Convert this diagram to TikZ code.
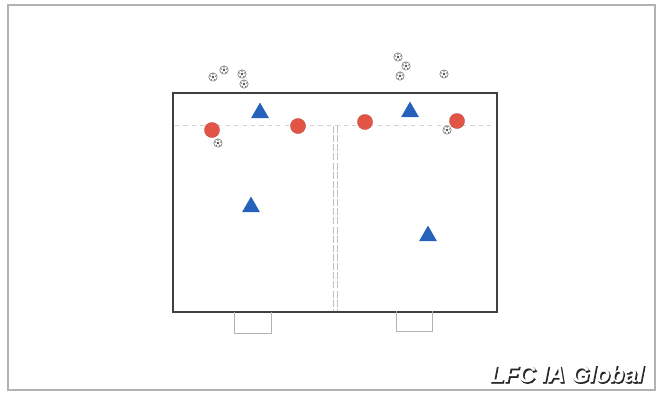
\documentclass[tikz,border=0pt]{standalone}
\usepackage{fontspec}
\setsansfont{Liberation Sans}
\newfontfamily\logoshadowfont[FakeBold=3.5]{Liberation Sans}
\usetikzlibrary{shapes.geometric,calc}
\definecolor{conblue}{RGB}{38,98,188}
\definecolor{plred}{RGB}{226,84,70}
\tikzset{
  player/.style={circle, fill=plred, draw=plred!80!black, line width=0.2pt, minimum size=0.38cm, inner sep=0pt},
  cone/.style={regular polygon, regular polygon sides=3, fill=conblue, inner sep=0pt, minimum size=0.52cm},
  ball/.style={circle, draw=black!60, fill=white, line width=0.35pt, minimum size=0.21cm, inner sep=0pt,
    path picture={\fill[black!70] (path picture bounding box.center) circle (0.035cm);
      \foreach \a in {90,162,234,306,18} \fill[black!55] ($(path picture bounding box.center)+(\a:0.075cm)$) circle (0.02cm);}},
  goalbox/.style={draw=black!30, line width=0.6pt},
  midline/.style={draw=black!25, line width=0.4pt, dash pattern=on 5pt off 1.5pt},
  logo/.style={font=\sffamily\bfseries\itshape\fontsize{16.5}{18}\selectfont, inner sep=0pt},
  logoshadow/.style={font=\logoshadowfont\bfseries\itshape\fontsize{16.5}{18}\selectfont, inner sep=0pt, text=black!85}
}
\begin{document}
\begin{tikzpicture}[x=0.025cm, y=-0.025cm]
  \useasboundingbox (0,0) rectangle (662,396);
  % Frame
  \draw[black!30, line width=0.8pt] (8,5) rectangle (655,390);

  % Pitch
  \coordinate (pitchNW) at (173,93);
  \coordinate (pitchSE) at (497,312);
  \draw[black!75, line width=1.4pt] (pitchNW) rectangle (pitchSE);
  \coordinate (lineW) at (175,125);
  \coordinate (lineE) at (495,125);
  \draw[black!18, dashed, line width=0.5pt] (lineW) -- (lineE);
  \coordinate (midNW) at (333,126);
  \coordinate (midSW) at (333,311);
  \coordinate (midNE) at (337,126);
  \coordinate (midSE) at (337,311);
  \draw[midline] (midNW) -- (midSW);
  \draw[midline] (midNE) -- (midSE);

  % Goals
  \draw[goalbox] (234,312) -- (234,333) -- (271,333) -- (271,312);
  \draw[goalbox] (396,311) -- (396,331) -- (432,331) -- (432,311);

  % Players
  \node[player] (redA) at (212,130) {};
  \node[player] (redB) at (298,126) {};
  \node[player] (redC) at (365,122) {};
  \node[player] (redD) at (457,121) {};

  % Cones
  \node[cone] (coneA) at (260,113) {};
  \node[cone] (coneB) at (410,112) {};
  \node[cone] (coneC) at (251,207) {};
  \node[cone] (coneD) at (428,236) {};

  % Balls
  \node[ball] (ballA) at (213,77) {};
  \node[ball] (ballB) at (224,70) {};
  \node[ball] (ballC) at (242,74) {};
  \node[ball] (ballD) at (244,84) {};
  \node[ball] (ballE) at (218,143) {};
  \node[ball] (ballF) at (398,57) {};
  \node[ball] (ballG) at (406,66) {};
  \node[ball] (ballH) at (400,76) {};
  \node[ball] (ballI) at (444,74) {};
  \node[ball] (ballJ) at (447,130) {};

  % Logo (shadow, then white face)
  \node[logoshadow] (logoback) at (568,375) {LFC IA Global};
  \node[logo, text=white] (logo) at (567,374) {LFC IA Global};
\end{tikzpicture}
\end{document}
